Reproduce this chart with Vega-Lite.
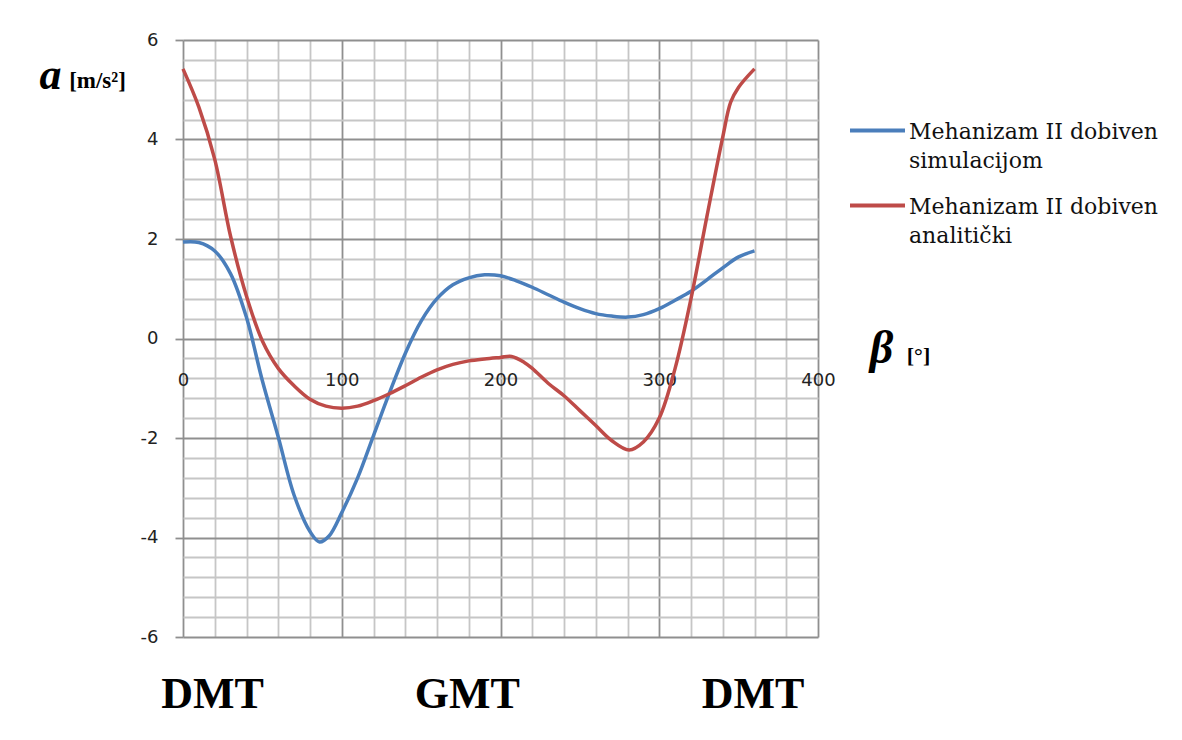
{
  "$schema": "https://vega.github.io/schema/vega-lite/v6.json",
  "width": 635,
  "height": 597,
  "autosize": {"type": "none"},
  "padding": {"left": 183, "top": 40, "right": 364, "bottom": 103},
  "background": "white",
  "config": {"view": {"stroke": null}},
  "datasets": {
    "curves": [
      {"beta": 0, "a": 1.94, "series": "Mehanizam II dobiven simulacijom"},
      {"beta": 10, "a": 1.93, "series": "Mehanizam II dobiven simulacijom"},
      {"beta": 20, "a": 1.76, "series": "Mehanizam II dobiven simulacijom"},
      {"beta": 30, "a": 1.3, "series": "Mehanizam II dobiven simulacijom"},
      {"beta": 40, "a": 0.42, "series": "Mehanizam II dobiven simulacijom"},
      {"beta": 50, "a": -0.85, "series": "Mehanizam II dobiven simulacijom"},
      {"beta": 60, "a": -1.98, "series": "Mehanizam II dobiven simulacijom"},
      {"beta": 70, "a": -3.15, "series": "Mehanizam II dobiven simulacijom"},
      {"beta": 80, "a": -3.88, "series": "Mehanizam II dobiven simulacijom"},
      {"beta": 86, "a": -4.09, "series": "Mehanizam II dobiven simulacijom"},
      {"beta": 92, "a": -3.97, "series": "Mehanizam II dobiven simulacijom"},
      {"beta": 100, "a": -3.5, "series": "Mehanizam II dobiven simulacijom"},
      {"beta": 110, "a": -2.8, "series": "Mehanizam II dobiven simulacijom"},
      {"beta": 120, "a": -1.95, "series": "Mehanizam II dobiven simulacijom"},
      {"beta": 130, "a": -1.1, "series": "Mehanizam II dobiven simulacijom"},
      {"beta": 140, "a": -0.3, "series": "Mehanizam II dobiven simulacijom"},
      {"beta": 150, "a": 0.35, "series": "Mehanizam II dobiven simulacijom"},
      {"beta": 160, "a": 0.8, "series": "Mehanizam II dobiven simulacijom"},
      {"beta": 170, "a": 1.08, "series": "Mehanizam II dobiven simulacijom"},
      {"beta": 180, "a": 1.22, "series": "Mehanizam II dobiven simulacijom"},
      {"beta": 190, "a": 1.28, "series": "Mehanizam II dobiven simulacijom"},
      {"beta": 200, "a": 1.26, "series": "Mehanizam II dobiven simulacijom"},
      {"beta": 210, "a": 1.16, "series": "Mehanizam II dobiven simulacijom"},
      {"beta": 220, "a": 1.03, "series": "Mehanizam II dobiven simulacijom"},
      {"beta": 230, "a": 0.88, "series": "Mehanizam II dobiven simulacijom"},
      {"beta": 240, "a": 0.73, "series": "Mehanizam II dobiven simulacijom"},
      {"beta": 250, "a": 0.6, "series": "Mehanizam II dobiven simulacijom"},
      {"beta": 260, "a": 0.5, "series": "Mehanizam II dobiven simulacijom"},
      {"beta": 270, "a": 0.45, "series": "Mehanizam II dobiven simulacijom"},
      {"beta": 280, "a": 0.43, "series": "Mehanizam II dobiven simulacijom"},
      {"beta": 290, "a": 0.48, "series": "Mehanizam II dobiven simulacijom"},
      {"beta": 300, "a": 0.6, "series": "Mehanizam II dobiven simulacijom"},
      {"beta": 310, "a": 0.77, "series": "Mehanizam II dobiven simulacijom"},
      {"beta": 320, "a": 0.95, "series": "Mehanizam II dobiven simulacijom"},
      {"beta": 330, "a": 1.18, "series": "Mehanizam II dobiven simulacijom"},
      {"beta": 340, "a": 1.42, "series": "Mehanizam II dobiven simulacijom"},
      {"beta": 350, "a": 1.64, "series": "Mehanizam II dobiven simulacijom"},
      {"beta": 360, "a": 1.76, "series": "Mehanizam II dobiven simulacijom"},
      {"beta": 0, "a": 5.42, "series": "Mehanizam II dobiven analitički"},
      {"beta": 10, "a": 4.65, "series": "Mehanizam II dobiven analitički"},
      {"beta": 20, "a": 3.6, "series": "Mehanizam II dobiven analitički"},
      {"beta": 30, "a": 2.05, "series": "Mehanizam II dobiven analitički"},
      {"beta": 40, "a": 0.85, "series": "Mehanizam II dobiven analitički"},
      {"beta": 50, "a": -0.05, "series": "Mehanizam II dobiven analitički"},
      {"beta": 60, "a": -0.6, "series": "Mehanizam II dobiven analitički"},
      {"beta": 70, "a": -0.95, "series": "Mehanizam II dobiven analitički"},
      {"beta": 80, "a": -1.22, "series": "Mehanizam II dobiven analitički"},
      {"beta": 90, "a": -1.36, "series": "Mehanizam II dobiven analitički"},
      {"beta": 100, "a": -1.4, "series": "Mehanizam II dobiven analitički"},
      {"beta": 110, "a": -1.36, "series": "Mehanizam II dobiven analitički"},
      {"beta": 120, "a": -1.25, "series": "Mehanizam II dobiven analitički"},
      {"beta": 130, "a": -1.11, "series": "Mehanizam II dobiven analitički"},
      {"beta": 140, "a": -0.95, "series": "Mehanizam II dobiven analitički"},
      {"beta": 150, "a": -0.78, "series": "Mehanizam II dobiven analitički"},
      {"beta": 160, "a": -0.63, "series": "Mehanizam II dobiven analitički"},
      {"beta": 170, "a": -0.52, "series": "Mehanizam II dobiven analitički"},
      {"beta": 180, "a": -0.45, "series": "Mehanizam II dobiven analitički"},
      {"beta": 190, "a": -0.41, "series": "Mehanizam II dobiven analitički"},
      {"beta": 200, "a": -0.38, "series": "Mehanizam II dobiven analitički"},
      {"beta": 207, "a": -0.36, "series": "Mehanizam II dobiven analitički"},
      {"beta": 215, "a": -0.48, "series": "Mehanizam II dobiven analitički"},
      {"beta": 220, "a": -0.6, "series": "Mehanizam II dobiven analitički"},
      {"beta": 230, "a": -0.9, "series": "Mehanizam II dobiven analitički"},
      {"beta": 240, "a": -1.15, "series": "Mehanizam II dobiven analitički"},
      {"beta": 250, "a": -1.45, "series": "Mehanizam II dobiven analitički"},
      {"beta": 260, "a": -1.75, "series": "Mehanizam II dobiven analitički"},
      {"beta": 270, "a": -2.05, "series": "Mehanizam II dobiven analitički"},
      {"beta": 281, "a": -2.24, "series": "Mehanizam II dobiven analitički"},
      {"beta": 290, "a": -2.08, "series": "Mehanizam II dobiven analitički"},
      {"beta": 300, "a": -1.6, "series": "Mehanizam II dobiven analitički"},
      {"beta": 310, "a": -0.6, "series": "Mehanizam II dobiven analitički"},
      {"beta": 320, "a": 0.8, "series": "Mehanizam II dobiven analitički"},
      {"beta": 330, "a": 2.45, "series": "Mehanizam II dobiven analitički"},
      {"beta": 340, "a": 4.05, "series": "Mehanizam II dobiven analitički"},
      {"beta": 345, "a": 4.75, "series": "Mehanizam II dobiven analitički"},
      {"beta": 350, "a": 5.05, "series": "Mehanizam II dobiven analitički"},
      {"beta": 360, "a": 5.42, "series": "Mehanizam II dobiven analitički"}
    ]
  },
  "data": {"name": "curves"},
  "resolve": {"scale": {"x": "independent", "y": "independent"}},
  "layer": [
    {
      "mark": {"type": "line", "interpolate": "catmull-rom", "strokeWidth": 3.5},
      "encoding": {
        "x": {
          "field": "beta", "type": "quantitative",
          "scale": {"domain": [0, 400], "nice": false, "zero": false},
          "axis": {
            "orient": "bottom",
            "values": [0,20,40,60,80,100,120,140,160,180,200,220,240,260,280,300,320,340,360,380,400],
            "labels": false, "ticks": false, "domain": false, "title": null,
            "grid": true,
            "gridColor": {"condition": {"test": "datum.value % 100 == 0", "value": "#8f8f8f"}, "value": "#c6c6c6"},
            "gridWidth": 1.8
          }
        },
        "y": {
          "field": "a", "type": "quantitative",
          "scale": {"domain": [-6, 6], "nice": false, "zero": false},
          "axis": {
            "orient": "left",
            "values": [-6,-5.6,-5.2,-4.8,-4.4,-4,-3.6,-3.2,-2.8,-2.4,-2,-1.6,-1.2,-0.8,-0.4,0,0.4,0.8,1.2,1.6,2,2.4,2.8,3.2,3.6,4,4.4,4.8,5.2,5.6,6],
            "labelExpr": "abs(datum.value - 2*round(datum.value/2)) < 0.01 ? '' + round(datum.value) : ''",
            "labelOverlap": false,
            "labelFont": "DejaVu Sans", "labelFontSize": 18, "labelColor": "#222222",
            "labelPadding": 17,
            "ticks": true, "tickSize": 8, "tickColor": "#8f8f8f", "tickWidth": 1.8,
            "tickOpacity": {"condition": {"test": "abs(datum.value - 2*round(datum.value/2)) < 0.01", "value": 1}, "value": 0},
            "domain": false,
            "grid": true,
            "gridColor": {"condition": {"test": "abs(datum.value - 2*round(datum.value/2)) < 0.01", "value": "#8f8f8f"}, "value": "#c6c6c6"},
            "gridWidth": 1.8,
            "title": "a", "titleAngle": 0, "titleX": -133, "titleY": 48,
            "titleAlign": "center", "titleBaseline": "alphabetic",
            "titleFont": "Liberation Serif", "titleFontSize": 44, "titleFontStyle": "italic", "titleFontWeight": "bold", "titleColor": "#000000"
          }
        },
        "color": {
          "field": "series", "type": "nominal",
          "scale": {"domain": ["Mehanizam II dobiven simulacijom", "Mehanizam II dobiven analitički"], "range": ["#4a7ebb", "#be4b48"]},
          "legend": {
            "orient": "none", "legendX": 665, "legendY": 61,
            "title": null, "padding": 0,
            "symbolType": "stroke", "symbolSize": 3025, "symbolStrokeWidth": 4,
            "labelFont": "DejaVu Serif", "labelFontSize": 22, "labelColor": "#111111",
            "labelOffset": 2, "labelLimit": 400,
            "labelBaseline": "alphabetic",
            "labelExpr": "[slice(datum.label, 0, 20), slice(datum.label, 21)]",
            "rowPadding": 4,
            "encode": {"labels": {"update": {"lineHeight": {"value": 29}, "dy": {"value": 8}}}}
          }
        }
      }
    },
    {
      "mark": {"type": "point", "opacity": 0},
      "encoding": {
        "x": {
          "field": "beta", "type": "quantitative",
          "scale": {"domain": [0, 400], "nice": false, "zero": false},
          "axis": {
            "orient": "bottom", "offset": -298.5,
            "values": [0, 100, 200, 300, 400],
            "grid": false, "domain": false, "ticks": false, "tickSize": 0,
            "labelFlush": false, "labelOverlap": false,
            "labelFont": "DejaVu Sans", "labelFontSize": 18, "labelColor": "#222222",
            "labelPadding": 33,
            "title": "β", "titleX": 698, "titleY": 24,
            "titleAlign": "center", "titleBaseline": "alphabetic",
            "titleFont": "Liberation Serif", "titleFontSize": 46, "titleFontStyle": "italic", "titleFontWeight": "bold", "titleColor": "#000000"
          }
        },
        "y": {
          "field": "a", "type": "quantitative",
          "scale": {"domain": [-6, 6], "nice": false, "zero": false},
          "axis": {
            "orient": "left",
            "labels": false, "ticks": false, "domain": false, "grid": false,
            "title": "[m/s²]", "titleAngle": 0, "titleX": -86, "titleY": 47,
            "titleAlign": "center", "titleBaseline": "alphabetic",
            "titleFont": "Liberation Serif", "titleFontSize": 23, "titleFontWeight": "bold", "titleColor": "#000000"
          }
        }
      }
    },
    {
      "mark": {"type": "point", "opacity": 0},
      "encoding": {
        "x": {
          "field": "beta", "type": "quantitative",
          "scale": {"domain": [0, 400], "nice": false, "zero": false},
          "axis": {
            "orient": "bottom",
            "values": [0, 180, 360],
            "labelExpr": "datum.value == 180 ? 'GMT' : 'DMT'",
            "grid": false, "domain": false, "ticks": false, "tickSize": 0,
            "labelFlush": false, "labelOverlap": false,
            "labelOffset": {"condition": {"test": "datum.value == 0", "value": 29}, "value": -2},
            "labelFont": "Liberation Serif", "labelFontSize": 44, "labelFontWeight": "bold", "labelColor": "#000000",
            "labelBaseline": "alphabetic", "labelPadding": 70,
            "title": "[°]", "titleX": 735, "titleY": -275,
            "titleAlign": "center", "titleBaseline": "alphabetic",
            "titleFont": "Liberation Serif", "titleFontSize": 22, "titleFontWeight": "bold", "titleColor": "#000000"
          }
        },
        "y": {
          "field": "a", "type": "quantitative",
          "scale": {"domain": [-6, 6], "nice": false, "zero": false},
          "axis": null
        }
      }
    }
  ]
}
